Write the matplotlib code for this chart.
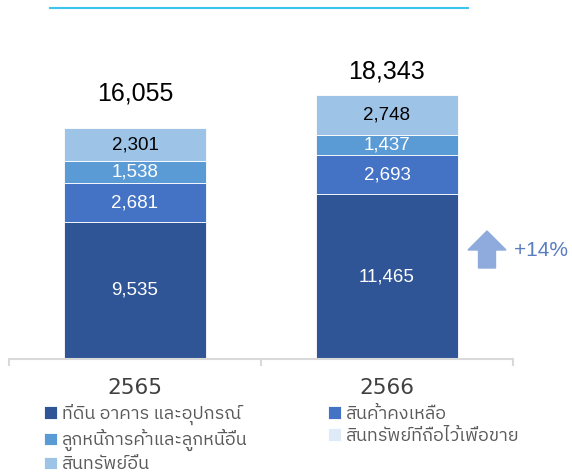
import matplotlib
matplotlib.use("Agg")
from matplotlib import pyplot as plt
from matplotlib import font_manager
from matplotlib.ft2font import FT2Font
from matplotlib.lines import Line2D
from matplotlib.patches import FancyArrow

years = ["2565", "2566"]
series_names = [
    "ที่ดิน อาคาร และอุปกรณ์",
    "สินค้าคงเหลือ",
    "ลูกหนี้การค้าและลูกหนี้อื่น",
    "สินทรัพย์ที่ถือไว้เพื่อขาย",
    "สินทรัพย์อื่น",
]
ppe = [9535, 11465]
inventory = [2681, 2693]
receivables = [1538, 1437]
held_for_sale = [0, 0]
other_assets = [2301, 2748]
totals = [16055, 18343]
growth_label = "+14%"

colors = ["#2F5597", "#4472C4", "#5B9BD5", "#DEEBF7", "#9DC3E6"]
label_colors = ["white", "white", "white", "white", "black"]


def has_thai(path):
    try:
        return 0x0E01 in FT2Font(path).get_charmap()
    except Exception:
        return False


# find something on the box that can draw Thai
thai_fonts = sorted({f.name for f in font_manager.fontManager.ttflist if has_thai(f.fname)})
thai_family = None
for name in thai_fonts:
    if "Sans" in name and "Looped" not in name:
        thai_family = name
        break
if thai_family is None and thai_fonts:
    thai_family = thai_fonts[0]
installed = {f.name for f in font_manager.fontManager.ttflist}
num_family = "Liberation Sans Narrow" if "Liberation Sans Narrow" in installed else "Liberation Sans"
narrow = num_family == "Liberation Sans Narrow"

thai_fam = [thai_family, "DejaVu Sans"] if thai_family else ["DejaVu Sans"]

seg_size = 16 if narrow else 13.5
total_size = 21 if narrow else 18
growth_size = 18 if narrow else 15

fig = plt.figure(figsize=(5.72, 4.73), dpi=100)
ax = fig.add_axes([9 / 572, 1 - 359 / 473, 504 / 572, 339 / 473])

x = list(range(len(years)))
stack = [ppe, inventory, receivables, held_for_sale, other_assets]
bottom = [0, 0]
containers = []
for vals, col, lc in zip(stack, colors, label_colors):
    bars = ax.bar(x, vals, width=0.56, bottom=bottom, color=col,
                  edgecolor="white", linewidth=0.6)
    containers.append(bars)
    for xi, v, b in zip(x, vals, bottom):
        if v > 0:
            ax.text(xi, b + v / 2, f"{v:,}", ha="center", va="center",
                    color=lc, fontsize=seg_size, family=num_family)
    bottom = [b + v for b, v in zip(bottom, vals)]

total_offsets = [25, 17]
for xi, t, off in zip(x, totals, total_offsets):
    ax.annotate(f"{t:,}", (xi, t), xytext=(0, off), textcoords="offset points",
                ha="center", va="center", fontsize=total_size, family=num_family, color="black")

ax.set_xlim(-0.5, 1.5)
ax.set_ylim(0, 23560)
for s in ["top", "left", "right"]:
    ax.spines[s].set_visible(False)
ax.spines["bottom"].set_color("#D9D9D9")
ax.spines["bottom"].set_linewidth(1.5)
ax.set_yticks([])
ax.set_xticks([-0.5, 0.5, 1.5])
ax.set_xticklabels([])
ax.tick_params(axis="x", which="major", length=5, width=1.5, color="#D9D9D9")
ax.set_xticks(x, minor=True)
ax.set_xticklabels(years, minor=True)
ax.tick_params(axis="x", which="minor", length=0, pad=14, labelsize=15.5, labelcolor="#404040")

# growth arrow + label
arrow = FancyArrow(4.87, 2.05, 0, 0.37, width=0.17, head_width=0.38, head_length=0.19,
                   length_includes_head=True, color="#8FAADC", transform=fig.dpi_scale_trans)
fig.add_artist(arrow)
fig.text(514 / 572, 1 - 251 / 473, growth_label, ha="left", va="center",
         fontsize=growth_size, family=num_family, color="#5A7DC0")

# thin cyan rule at the top
fig.add_artist(Line2D([50 / 572, 468 / 572], [1 - 8 / 473, 1 - 8 / 473],
                      color="#3CC4EF", linewidth=1.5))

order = [0, 2, 4, 1, 3]
leg = fig.legend([containers[i] for i in order], [series_names[i] for i in order],
                 ncol=2, loc="upper left", bbox_to_anchor=(44 / 572, 1 - 404 / 473),
                 frameon=False, handlelength=0.7, handleheight=0.7, handletextpad=0.3,
                 columnspacing=4.45, labelspacing=0.22, borderpad=0, borderaxespad=0,
                 prop={"family": thai_fam, "size": 13})
for t in leg.get_texts():
    t.set_color("#595959")

fig.savefig("out.png", dpi=100)
